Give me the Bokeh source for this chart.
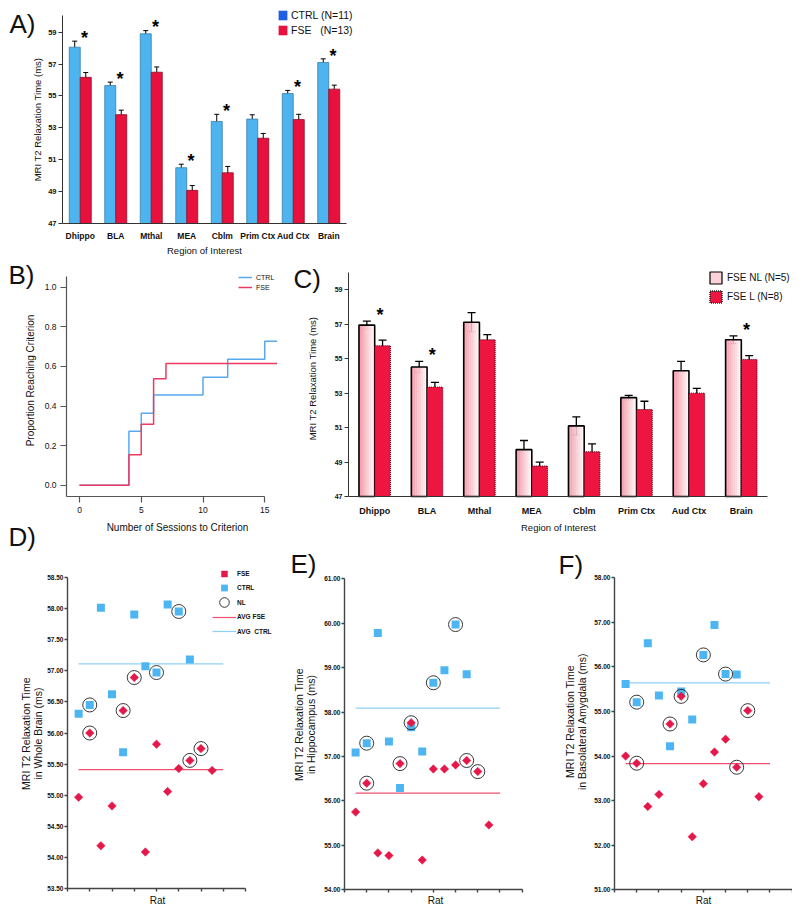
import math
from bokeh.plotting import figure
from bokeh.layouts import column, row
from bokeh.models import (ColumnDataSource, Range1d, Whisker, TeeHead, Legend, LegendItem,
                          Label, FixedTicker, NumeralTickFormatter)
from bokeh.core.properties import value
from bokeh.embed import file_html
from bokeh.resources import INLINE

FONT = "Liberation Sans"
NAN = float("nan")

# ---------------- Panel A data ----------------
regions = ["Dhippo", "BLA", "Mthal", "MEA", "Cblm", "Prim Ctx", "Aud Ctx", "Brain"]
a_ctrl = [58.06, 55.65, 58.90, 50.50, 53.40, 53.55, 55.15, 57.10]
a_ctrl_err = [0.38, 0.22, 0.20, 0.22, 0.45, 0.27, 0.20, 0.23]
a_fse = [56.17, 53.83, 56.49, 49.08, 50.18, 52.35, 53.52, 55.43]
a_fse_err = [0.30, 0.28, 0.33, 0.30, 0.40, 0.30, 0.33, 0.25]
a_sig = [True, True, True, True, True, False, True, True]
a_yticks = [47, 49, 51, 53, 55, 57, 59]

# ---------------- Panel B data ----------------
b_ctrl_x = [0, 4, 5, 6, 10, 12, 15, 16]
b_ctrl_y = [0.0, 0.273, 0.364, 0.455, 0.545, 0.636, 0.727, 0.727]
b_fse_x = [0, 4, 5, 6, 7, 16]
b_fse_y = [0.0, 0.154, 0.308, 0.538, 0.615, 0.615]
b_xticks = [0, 5, 10, 15]
b_yticks = [0.0, 0.2, 0.4, 0.6, 0.8, 1.0]

# ---------------- Panel C data ----------------
c_nl = [56.95, 54.52, 57.12, 49.72, 51.10, 52.74, 54.30, 56.10]
c_nl_err = [0.23, 0.32, 0.55, 0.53, 0.52, 0.13, 0.54, 0.22]
c_l = [55.75, 53.35, 56.10, 48.77, 49.60, 52.05, 53.00, 54.96]
c_l_err = [0.33, 0.27, 0.30, 0.22, 0.45, 0.48, 0.28, 0.22]
c_sig = [True, True, False, False, False, False, False, True]
c_yticks = [47, 49, 51, 53, 55, 57, 59]

# ---------------- Panels D-F data ----------------
rat_fse = [1, 2, 3, 4, 5, 6, 7, 8, 9, 10, 11, 12, 13]
rat_ctrl = [1, 2, 3, 4, 5, 6, 7, 8, 9, 10, 11]
fse_nl = [0, 1, 0, 0, 1, 1, 0, 0, 0, 0, 1, 1, 0]
ctrl_nl = [0, 1, 0, 0, 0, 0, 0, 1, 0, 1, 0]
avg_span = [1, 14]
rat_ticks = [0, 2, 4, 6, 8, 10, 12, 14, 16]

d_fse = [54.97, 56.00, 54.19, 54.83, 56.36, 56.89, 54.09, 55.82, 55.06, 55.43, 55.56, 55.75, 55.40]
d_ctrl = [56.31, 56.45, 58.01, 56.62, 55.69, 57.90, 57.07, 56.97, 58.06, 57.95, 57.18]
d_yticks = [53.5, 54.0, 54.5, 55.0, 55.5, 56.0, 56.5, 57.0, 57.5, 58.0, 58.5]

e_fse = [55.75, 56.40, 54.83, 54.77, 56.84, 57.76, 54.67, 56.72, 56.72, 56.81, 56.91, 56.66, 55.46]
e_ctrl = [57.09, 57.30, 59.78, 57.34, 56.29, 57.66, 57.11, 58.66, 58.94, 59.97, 58.85]
e_yticks = [54, 55, 56, 57, 58, 59, 60, 61]

f_fse = [54.00, 53.84, 52.87, 53.14, 54.72, 55.34, 52.19, 53.38, 54.09, 54.38, 53.75, 55.02, 53.09]
f_ctrl = [55.62, 55.21, 56.53, 55.36, 54.22, 55.45, 54.82, 56.27, 56.94, 55.84, 55.83]
f_yticks = [51, 52, 53, 54, 55, 56, 57, 58]

# ---------------- colours ----------------
A_BLUE = "#4DB4EF"
A_BLUE_LINE = "#3A7FA8"
A_RED = "#E8113D"
A_RED_LINE = "#8A0F26"
LEG_BLUE = "#1F5EE2"
B_BLUE = "#58A9EE"
B_RED = "#EE3A62"
C_RED = "#EE1541"
PT_RED = "#E5184A"
PT_BLUE = "#4DB6F2"
AVG_RED = "#F0506E"
AVG_BLUE = "#8FD0F5"
AXIS = "#333333"
TXT = "#111111"


# ---------------- helpers (page geometry -> data ranges) ----------------
def x_span(v0, px0, ppu, left, w):
    return (v0 + (left - px0) / ppu, v0 + (left + w - px0) / ppu)


def y_span(v0, py0, ppu, top, h):
    return (v0 - (top + h - py0) / ppu, v0 + (py0 - top) / ppu)


def canvas(w, h, xr, yr):
    p = figure(width=w, height=h, x_range=Range1d(*xr), y_range=Range1d(*yr),
               output_backend="svg", toolbar_location=None, tools="",
               min_border=0, min_border_left=0, min_border_right=0,
               min_border_top=0, min_border_bottom=0)
    p.outline_line_color = None
    p.xgrid.visible = False
    p.ygrid.visible = False
    p.background_fill_alpha = 0
    p.border_fill_alpha = 0
    return p


def style_axis(ax, fixed, bounds, ticks, size, bold, tick_out, standoff,
               color=AXIS, width=1.0):
    ax.fixed_location = fixed
    ax.bounds = bounds
    ax.ticker = FixedTicker(ticks=ticks)
    ax.minor_tick_line_color = None
    ax.major_tick_in = 0
    ax.major_tick_out = tick_out
    ax.major_label_standoff = standoff
    ax.major_label_text_font = FONT
    ax.major_label_text_font_size = size
    ax.major_label_text_font_style = "bold" if bold else "normal"
    ax.major_label_text_color = TXT
    ax.axis_line_color = color
    ax.axis_line_width = width
    ax.major_tick_line_color = color
    ax.major_tick_line_width = width


def txt(p, text, x, y_top, H, size, bold=False, angle=0.0, align="center", baseline="middle"):
    p.add_layout(Label(x=x, y=H - y_top, x_units="screen", y_units="screen", text=text,
                       angle=angle, text_font=FONT, text_font_size=size,
                       text_font_style="bold" if bold else "normal",
                       text_align=align, text_baseline=baseline, text_color=TXT))


def mk_legend(items, loc, gw, gh, lh, spacing, fsize, standoff, bold=False):
    return Legend(items=items, location=loc, orientation="vertical",
                  glyph_width=gw, glyph_height=gh, label_height=lh,
                  label_standoff=standoff, padding=0, margin=0, spacing=spacing,
                  border_line_color=None, background_fill_alpha=0,
                  label_text_font=FONT, label_text_font_size=fsize,
                  label_text_font_style="bold" if bold else "normal",
                  label_text_color=TXT)


cat_x = [i + 0.5 for i in range(len(regions))]
cat_labels = {x: r for x, r in zip(cat_x, regions)}

# ======================= Panel A  (page box 8,8  392x250) =======================
WA, HA = 392, 250
pa = canvas(WA, HA, x_span(0, 62, 35.5, 8, WA), y_span(47, 223, 15.94, 8, HA))
src_a = ColumnDataSource(dict(
    xc=[x - 0.155 for x in cat_x], xf=[x + 0.155 for x in cat_x],
    ctrl=a_ctrl, fse=a_fse,
    ctrl_up=[v + e for v, e in zip(a_ctrl, a_ctrl_err)],
    ctrl_lo=[v - e for v, e in zip(a_ctrl, a_ctrl_err)],
    fse_up=[v + e for v, e in zip(a_fse, a_fse_err)],
    fse_lo=[v - e for v, e in zip(a_fse, a_fse_err)],
))
pa.vbar(x="xc", top="ctrl", bottom=47, width=0.31, source=src_a,
        fill_color=A_BLUE, line_color=A_BLUE_LINE, line_width=0.8)
pa.vbar(x="xf", top="fse", bottom=47, width=0.31, source=src_a,
        fill_color=A_RED, line_color=A_RED_LINE, line_width=0.8)
for base, up, lo in [("xc", "ctrl_up", "ctrl_lo"), ("xf", "fse_up", "fse_lo")]:
    pa.add_layout(Whisker(source=src_a, base=base, upper=up, lower=lo,
                          line_color="black", line_width=1,
                          upper_head=TeeHead(size=5, line_color="black", line_width=1),
                          lower_head=TeeHead(size=5, line_color="black", line_width=1)))
star_a = ColumnDataSource(dict(
    x=[x + 0.12 for x, s in zip(cat_x, a_sig) if s],
    y=[v + e + 0.45 for v, e, s in zip(a_ctrl, a_ctrl_err, a_sig) if s],
    t=["*" for s in a_sig if s]))
pa.text(x="x", y="y", text="t", source=star_a, text_font=value(FONT),
        text_font_size=value("18px"), text_font_style="bold", text_align="center",
        text_baseline="middle", y_offset=4, text_color="black")
style_axis(pa.yaxis[0], 0, (47, 60.05), a_yticks, "7.5px", True, 4, 2)
style_axis(pa.xaxis[0], 47, (0, 8), cat_x, "8.5px", True, 0, 7)
pa.xaxis[0].major_tick_line_color = None
pa.xaxis[0].major_label_overrides = cat_labels
la1 = pa.vbar(x=[NAN], top=[NAN], width=0.3, fill_color=LEG_BLUE, line_color=None)
la2 = pa.vbar(x=[NAN], top=[NAN], width=0.3, fill_color=A_RED, line_color=None)
pa.add_layout(mk_legend([LegendItem(label="CTRL (N=11)", renderers=[la1]),
                         LegendItem(label="FSE   (N=13)", renderers=[la2])],
                        (269, 222), 11, 12, 12, 3, "10.5px", 3))
txt(pa, "A)", 1, 15.5, HA, "26px", align="left")
txt(pa, "MRI T2 Relaxation Time (ms)", 29, 111, HA, "9.5px", angle=math.pi / 2)
txt(pa, "Region of Interest", 196, 242, HA, "9.5px")

# ======================= Panel B  (page box 8,258  282x275) =======================
WB, HB = 282, 275
pb = canvas(WB, HB, x_span(0, 79, 12.35, 8, WB), y_span(0, 484.7, 198, 258, HB))
b_axis_x = (66 - 79) / 12.35
b_axis_y = -(496 - 484.7) / 198
b_top = (484.7 - 276) / 198
rb1 = pb.step(b_ctrl_x, b_ctrl_y, mode="after", line_color=B_BLUE, line_width=1.5)
rb2 = pb.step(b_fse_x, b_fse_y, mode="after", line_color=B_RED, line_width=1.5)
style_axis(pb.xaxis[0], b_axis_y, (b_axis_x, 15), b_xticks, "8.5px", False, 6, 4, "#555555", 1.2)
style_axis(pb.yaxis[0], b_axis_x, (b_axis_y, b_top), b_yticks, "8.5px", False, 6, 4, "#555555", 1.2)
pb.yaxis[0].formatter = NumeralTickFormatter(format="0.0")
pb.add_layout(mk_legend([LegendItem(label="CTRL", renderers=[rb1]),
                         LegendItem(label="FSE", renderers=[rb2])],
                        (230, 241), 14, 10, 10, 0, "7px", 4))
txt(pb, "B)", 0, 16, HB, "26px", align="left")
txt(pb, "Proportion Reaching Criterion", 22, 122, HB, "10px", angle=math.pi / 2)
txt(pb, "Number of Sessions to Criterion", 169, 269, HB, "10px")

# ======================= Panel C  (page box 290,258  502x275) =======================
WC, HC = 502, 275
pc = canvas(WC, HC, x_span(0, 348, 52.375, 290, WC), y_span(47, 496, 17.225, 258, HC))
src_c = ColumnDataSource(dict(
    xn=[x - 0.15 for x in cat_x], xl=[x + 0.15 for x in cat_x],
    nl=c_nl, l=c_l,
    nl_up=[v + e for v, e in zip(c_nl, c_nl_err)],
    nl_lo=[v - e for v, e in zip(c_nl, c_nl_err)],
    l_up=[v + e for v, e in zip(c_l, c_l_err)],
    l_lo=[v - e for v, e in zip(c_l, c_l_err)],
))
NSTRIP = 8
g0 = (0xF2, 0x9C, 0xAB)
g1 = (0xFF, 0xF6, 0xF7)
for k in range(NSTRIP):
    t = k / (NSTRIP - 1)
    col = "#%02X%02X%02X" % tuple(int(round(a + (b - a) * t)) for a, b in zip(g0, g1))
    off = -0.3 + 0.3 * (k + 0.5) / NSTRIP
    pc.vbar(x=[x + off for x in cat_x], top=c_nl, bottom=47,
            width=0.3 / NSTRIP + 0.004, fill_color=col, line_color=None)
pc.vbar(x="xn", top="nl", bottom=47, width=0.3, source=src_c,
        fill_color=None, line_color="black", line_width=1.6)
pc.vbar(x="xl", top="l", bottom=47, width=0.3, source=src_c,
        fill_color=C_RED, line_color="#3A0010", line_width=1, line_dash="1 1")
for base, up, lo in [("xn", "nl_up", "nl_lo"), ("xl", "l_up", "l_lo")]:
    pc.add_layout(Whisker(source=src_c, base=base, upper=up, lower=lo,
                          line_color="black", line_width=1.3,
                          upper_head=TeeHead(size=8, line_color="black", line_width=1.3),
                          lower_head=TeeHead(size=8, line_color="black", line_width=1.3)))
star_c = ColumnDataSource(dict(
    x=[x + 0.1 for x, s in zip(cat_x, c_sig) if s],
    y=[v + e + 0.6 for v, e, s in zip(c_nl, c_nl_err, c_sig) if s],
    t=["*" for s in c_sig if s]))
pc.text(x="x", y="y", text="t", source=star_c, text_font=value(FONT),
        text_font_size=value("18px"), text_font_style="bold", text_align="center",
        text_baseline="middle", y_offset=4, text_color="black")
style_axis(pc.yaxis[0], 0, (47, 60), c_yticks, "7px", True, 4, 2)
style_axis(pc.xaxis[0], 47, (0, 8), cat_x, "9px", True, 0, 9)
pc.xaxis[0].major_tick_line_color = None
pc.xaxis[0].major_label_overrides = cat_labels
lc1 = pc.vbar(x=[NAN], top=[NAN], width=0.3, fill_color="#FAD2D9",
              line_color="black", line_width=1.2)
lc2 = pc.vbar(x=[NAN], top=[NAN], width=0.3, fill_color=C_RED,
              line_color="#222222", line_width=1.5, line_dash="1 1")
pc.add_layout(mk_legend([LegendItem(label="FSE NL (N=5)", renderers=[lc1]),
                         LegendItem(label="FSE L (N=8)", renderers=[lc2])],
                        (418, 229), 15, 15, 15, 4, "10px", 4))
txt(pc, "C)", 3, 20, HC, "26px", align="left")
txt(pc, "MRI T2 Relaxation Time (ms)", 22, 120, HC, "9.5px", angle=math.pi / 2)
txt(pc, "Region of Interest", 268, 269, HC, "9.5px")


# ======================= Panels D, E, F =======================
def scatter_panel(fse, ctrl, yticks, W, H, left, top, axis_px, axis_py, y0, ppu_y,
                  ppu_x, title1, title2, tx, ty, rat_x, let, let_x, let_y, legend_left=None):
    p = canvas(W, H, x_span(0, axis_px, ppu_x, left, W), y_span(y0, axis_py, ppu_y, top, H))
    mean_f = sum(fse) / len(fse)
    mean_c = sum(ctrl) / len(ctrl)
    r_af = p.line(avg_span, [mean_f, mean_f], line_color=AVG_RED, line_width=1.2)
    r_ac = p.line(avg_span, [mean_c, mean_c], line_color=AVG_BLUE, line_width=1.2)
    r_c = p.scatter(rat_ctrl, ctrl, marker="square", size=8, fill_color=PT_BLUE, line_color=None)
    r_f = p.scatter(rat_fse, fse, marker="square", angle=math.pi / 4, size=6,
                    fill_color=PT_RED, line_color=PT_RED, line_width=0.5)
    cx = [x for x, n in zip(rat_fse, fse_nl) if n] + [x for x, n in zip(rat_ctrl, ctrl_nl) if n]
    cy = [y for y, n in zip(fse, fse_nl) if n] + [y for y, n in zip(ctrl, ctrl_nl) if n]
    r_nl = p.scatter(cx, cy, marker="circle", size=14, fill_color=None,
                     line_color="#222222", line_width=0.9)
    y_lo, y_hi = yticks[0], yticks[-1]
    style_axis(p.xaxis[0], y_lo, (0, 16), rat_ticks, "0px", False, 3, 0, "#444444", 1.4)
    p.xaxis[0].major_label_text_alpha = 0
    style_axis(p.yaxis[0], 0, (y_lo, y_hi), yticks, "6.5px", True, 3, 1, "#444444", 1.4)
    p.yaxis[0].formatter = NumeralTickFormatter(format="0.00")
    txt(p, title1, tx, ty, H, "10.5px", angle=math.pi / 2)
    txt(p, title2, tx + 12.5, ty, H, "10.5px", angle=math.pi / 2)
    txt(p, "Rat", rat_x, H - 6, H, "10px")
    txt(p, let, let_x, let_y, H, "26px", align="left")
    if legend_left is not None:
        entries = [("FSE", r_f, 52, 15), ("CTRL", r_c, 66.5, 17), ("NL", r_nl, 81, 24),
                   ("AVG FSE", r_af, 95.5, 14), ("AVG  CTRL", r_ac, 110, 14)]
        for lab, rr, cyy, gh in entries:
            p.add_layout(mk_legend([LegendItem(label=lab, renderers=[rr])],
                                   (legend_left, H - (cyy + gh / 2)), 24, gh, gh, 0,
                                   "6.5px", 1, bold=True))
    return p


ROW3_TOP = 521
H3 = 385
pd = scatter_panel(d_fse, d_ctrl, d_yticks, 272, H3, 8, ROW3_TOP, 67, 888.3, 53.5, 62.32, 11.125,
                   "MRI T2 Relaxation Time", "in Whole Brain (ms)", 17, 212, 149,
                   "D)", 0, 15.5, legend_left=204)
pe = scatter_panel(e_fse, e_ctrl, e_yticks, 270, H3, 280, ROW3_TOP, 344, 889.3, 54, 44.43, 11.106,
                   "MRI T2 Relaxation Time", "in Hippocampus (ms)", 18, 203, 155, "E)", 10, 42.5)
pf = scatter_panel(f_fse, f_ctrl, f_yticks, 242, H3, 550, ROW3_TOP, 614, 889.3, 51, 44.57, 11.106,
                   "MRI T2 Relaxation Time", "in Basolateral Amygdala (ms)", 19, 200, 153, "F)", 8, 43.5)

layout = column(pa, row(pb, pc), row(pd, pe, pf, margin=(-12, 0, 0, 0)),
                margin=(8, 0, 0, 8))
open("out.html", "w").write(file_html(layout, INLINE))
